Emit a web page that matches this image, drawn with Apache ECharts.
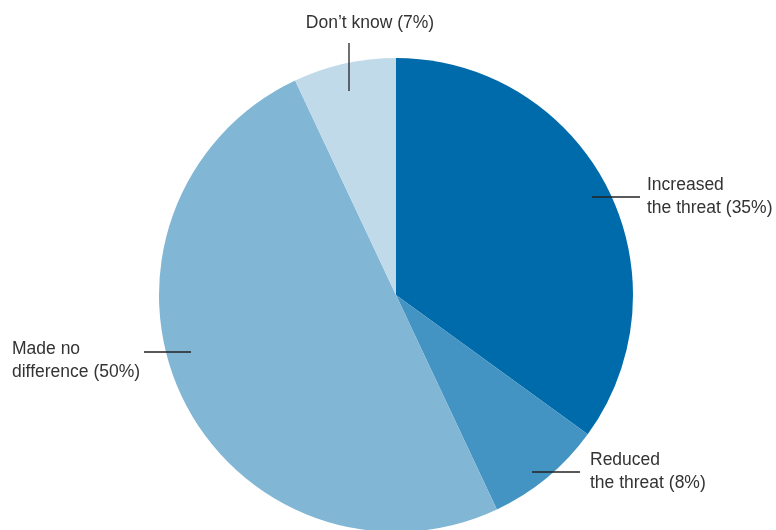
<!DOCTYPE html>
<html>
<head>
<meta charset="utf-8">
<script src="https://cdn.jsdelivr.net/npm/echarts@6/dist/echarts.min.js"></script>
<style>
html,body{margin:0;padding:0;background:#fff;}
#chart{width:776px;height:530px;}
</style>
</head>
<body>
<div id="chart"></div>
<script>
const categories = ['Increased\nthe threat', 'Reduced\nthe threat', 'Made no\ndifference', 'Don\u2019t know'];
const values = [35, 8, 50, 7];
const colors = ['#006BAA', '#4393C3', '#81B6D5', '#C0DAEA'];

// label placement (style only): text anchor, alignment and leader line segment
const labelPlacement = [
  { x: 647, y: 197, align: 'left', line: [[592, 197], [640, 197]] },
  { x: 590, y: 472, align: 'left', line: [[532, 472], [580, 472]] },
  { x: 12, y: 361, align: 'left', line: [[191, 352], [144, 352]] },
  { x: 370, y: 23, align: 'center', line: [[349, 91], [349, 43]] }
];

const pieData = categories.map((c, i) => ({ name: c, value: values[i], itemStyle: { color: colors[i] } }));

const chart = echarts.init(document.getElementById('chart'));
chart.setOption({
  animation: false,
  series: [{
    type: 'pie',
    z: 2,
    center: [396, 295],
    radius: 237,
    startAngle: 90,
    clockwise: true,
    itemStyle: { borderWidth: 0 },
    emphasis: { disabled: true },
    label: { show: false },
    labelLine: { show: false },
    data: pieData
  }, {
    type: 'pie',
    z: 5,
    silent: true,
    center: [396, 295],
    radius: 237,
    startAngle: 90,
    clockwise: true,
    avoidLabelOverlap: false,
    itemStyle: { color: 'rgba(0,0,0,0)', borderWidth: 0 },
    emphasis: { disabled: true },
    data: categories.map((c, i) => ({ name: c, value: values[i] })),
    label: {
      show: true,
      position: 'outside',
      formatter: p => p.name + ' (' + p.value + '%)',
      fontFamily: 'Liberation Sans, Arial, sans-serif',
      fontSize: 17.5,
      lineHeight: 23,
      color: '#333333'
    },
    labelLine: {
      show: true,
      lineStyle: { color: '#222222', width: 1.3 }
    },
    labelLayout: function (params) {
      const p = labelPlacement[params.dataIndex];
      return {
        x: p.x,
        y: p.y,
        align: p.align,
        verticalAlign: 'middle',
        labelLinePoints: [p.line[0], p.line[1], p.line[1]]
      };
    }
  }]
});
</script>
</body>
</html>
